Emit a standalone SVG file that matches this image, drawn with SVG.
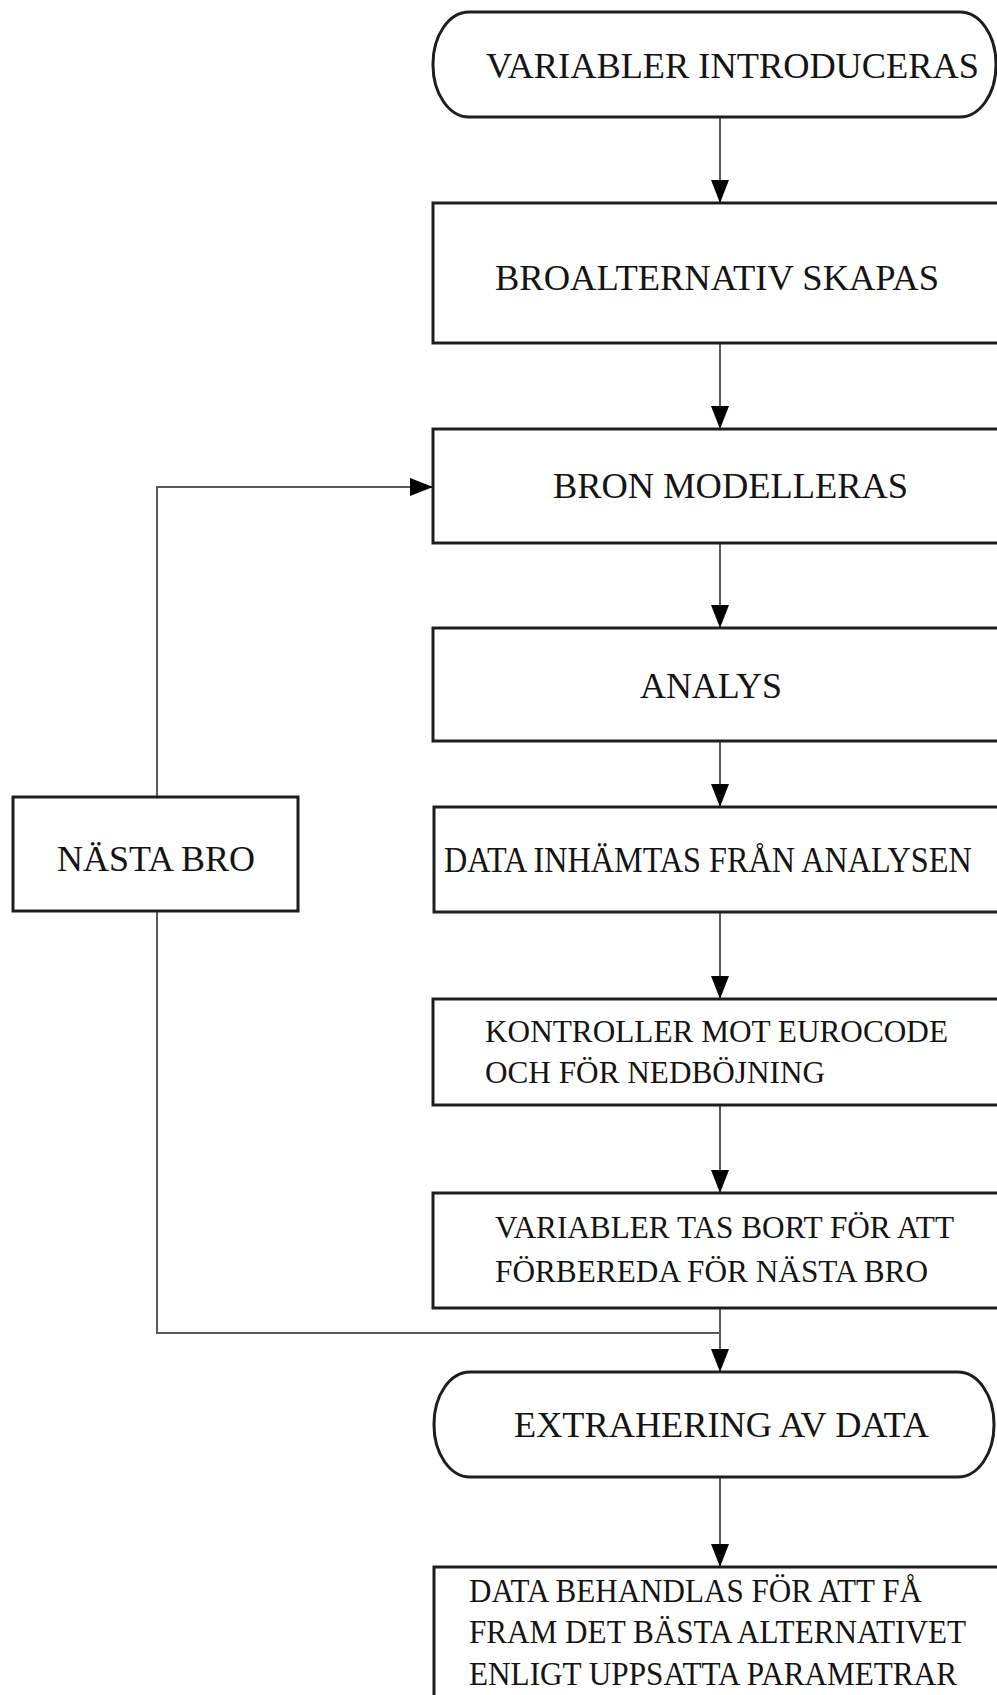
<svg xmlns="http://www.w3.org/2000/svg" width="997" height="1695" viewBox="0 0 997 1695">
<style>
.box{fill:#fff;stroke:#1e1e1e;stroke-width:3}
.conn{fill:none;stroke:#5a5a5a;stroke-width:2}
.t{font-family:"Liberation Serif","Times New Roman",serif;fill:#141414}
.t36{font-size:36px}
.t31{font-size:31px}
.t33{font-size:33px}
</style>
<defs>
<marker id="arr" markerUnits="userSpaceOnUse" markerWidth="24" markerHeight="18" refX="23" refY="9" orient="auto">
<path d="M0,0 L23,9 L0,18 z" fill="#000"/>
</marker>
</defs>
<rect width="997" height="1695" fill="#fff"/>
<g id="connectors">
<line class="conn" x1="720" y1="117" x2="720" y2="203" marker-end="url(#arr)"/>
<line class="conn" x1="720" y1="343" x2="720" y2="429" marker-end="url(#arr)"/>
<line class="conn" x1="720" y1="543" x2="720" y2="628" marker-end="url(#arr)"/>
<line class="conn" x1="720" y1="741" x2="720" y2="807" marker-end="url(#arr)"/>
<line class="conn" x1="720" y1="912" x2="720" y2="999" marker-end="url(#arr)"/>
<line class="conn" x1="720" y1="1105" x2="720" y2="1193" marker-end="url(#arr)"/>
<line class="conn" x1="720" y1="1308" x2="720" y2="1372" marker-end="url(#arr)"/>
<line class="conn" x1="720" y1="1477" x2="720" y2="1567" marker-end="url(#arr)"/>
<polyline class="conn" points="720,1333 157,1333 157,911"/>
<polyline class="conn" points="157,797 157,487 433,487" marker-end="url(#arr)"/>
</g>
<g id="n1">
<rect class="box" x="433" y="12" width="563" height="105" rx="36" ry="52"/>
<text class="t t36" x="486" y="78" textLength="493" lengthAdjust="spacingAndGlyphs">VARIABLER INTRODUCERAS</text>
</g>
<g id="n2">
<rect class="box" x="433" y="203" width="580" height="140"/>
<text class="t t36" x="495" y="290" textLength="444" lengthAdjust="spacingAndGlyphs">BROALTERNATIV SKAPAS</text>
</g>
<g id="n3">
<rect class="box" x="433" y="429" width="580" height="114"/>
<text class="t t36" x="553" y="498" textLength="355" lengthAdjust="spacingAndGlyphs">BRON MODELLERAS</text>
</g>
<g id="n4">
<rect class="box" x="433" y="628" width="580" height="113"/>
<text class="t t36" x="640" y="698" textLength="142" lengthAdjust="spacingAndGlyphs">ANALYS</text>
</g>
<g id="n5">
<rect class="box" x="434" y="807" width="580" height="105"/>
<text class="t t36" transform="translate(444,872) scale(0.895,1)" x="0" y="0">DATA INHÄMTAS FRÅN ANALYSEN</text>
</g>
<g id="n6">
<rect class="box" x="13" y="797" width="285" height="114"/>
<text class="t t36" x="57" y="871" textLength="198" lengthAdjust="spacingAndGlyphs">NÄSTA BRO</text>
</g>
<g id="n7">
<rect class="box" x="433" y="999" width="580" height="106"/>
<text class="t t31" x="485" y="1042" textLength="463" lengthAdjust="spacingAndGlyphs">KONTROLLER MOT EUROCODE</text>
<text class="t t31" x="485" y="1083" textLength="340" lengthAdjust="spacingAndGlyphs">OCH FÖR NEDBÖJNING</text>
</g>
<g id="n8">
<rect class="box" x="433" y="1193" width="580" height="115"/>
<text class="t t31" x="495" y="1238" textLength="459" lengthAdjust="spacingAndGlyphs">VARIABLER TAS BORT FÖR ATT</text>
<text class="t t31" x="495" y="1282" textLength="433" lengthAdjust="spacingAndGlyphs">FÖRBEREDA FÖR NÄSTA BRO</text>
</g>
<g id="n9">
<rect class="box" x="434" y="1372" width="560" height="105" rx="36" ry="52"/>
<text class="t t36" x="514" y="1437" textLength="415" lengthAdjust="spacingAndGlyphs">EXTRAHERING AV DATA</text>
</g>
<g id="n10">
<rect class="box" x="434" y="1567" width="580" height="200"/>
<text class="t t33" x="469" y="1602" textLength="453" lengthAdjust="spacingAndGlyphs">DATA BEHANDLAS FÖR ATT FÅ</text>
<text class="t t33" x="469" y="1643" textLength="497" lengthAdjust="spacingAndGlyphs">FRAM DET BÄSTA ALTERNATIVET</text>
<text class="t t33" x="469" y="1685" textLength="488" lengthAdjust="spacingAndGlyphs">ENLIGT UPPSATTA PARAMETRAR</text>
</g>
</svg>
